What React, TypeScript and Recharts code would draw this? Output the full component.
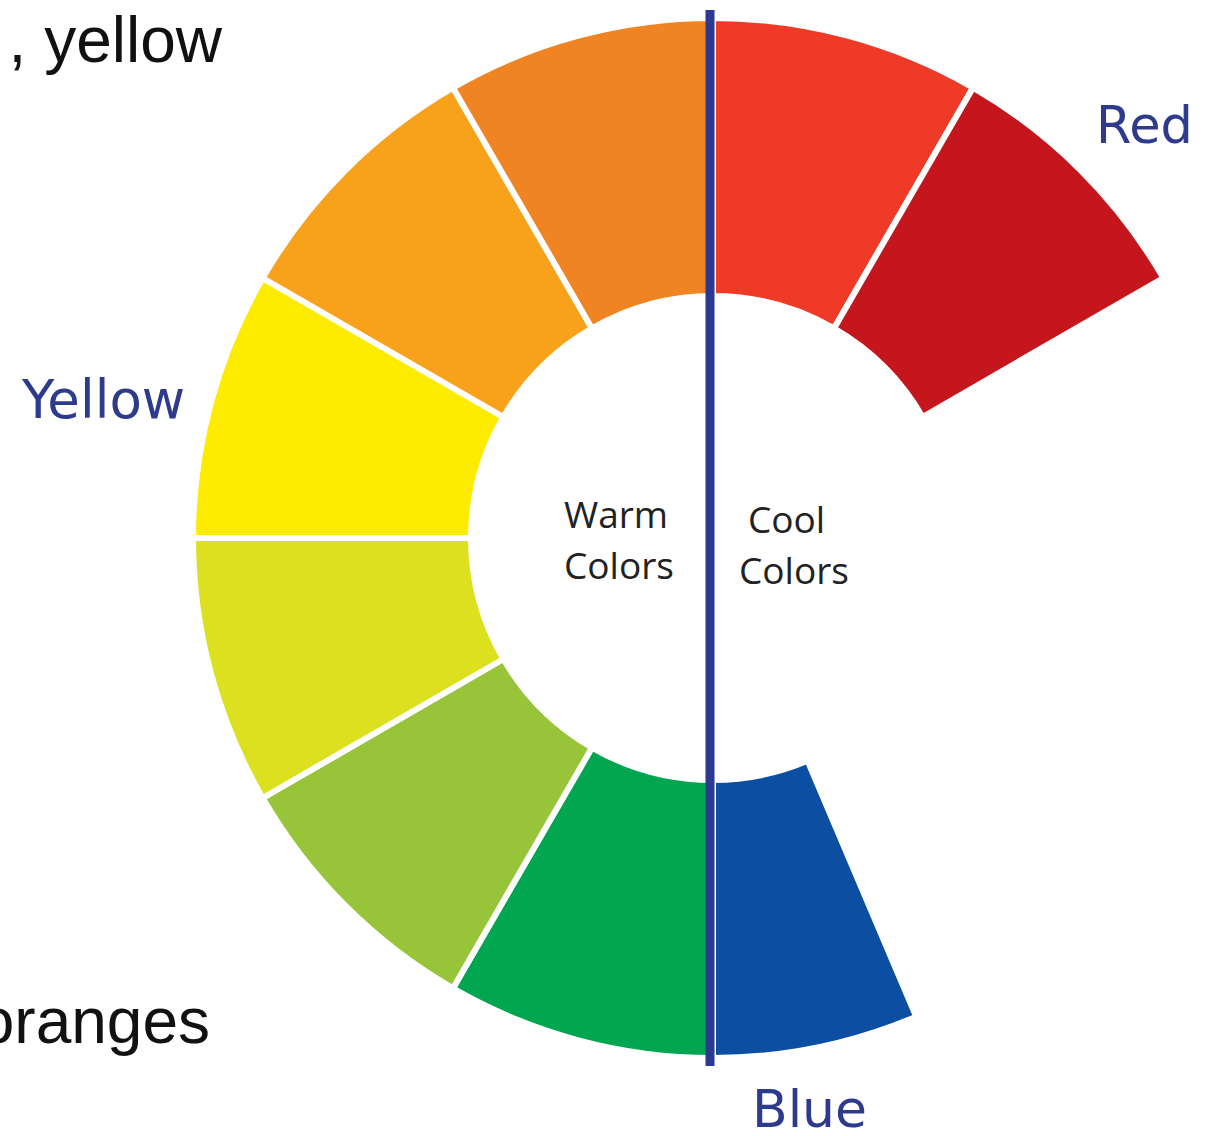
import * as React from 'react';
import { PieChart, Pie, Cell } from 'recharts';

// Segments of the wheel, clockwise from 12 o'clock. Values are arc widths in degrees.
const segmentNames = ['Red', 'Dark red', 'gap', 'Blue', 'Green', 'Light green', 'Yellow green', 'Yellow', 'Light orange', 'Orange'];
const segmentSpans = [30, 30, 97, 23, 30, 30, 30, 30, 30, 30];
const segmentColors = ['#EE3A26', '#C4161C', 'none', '#0B4EA2', '#00A650', '#98C43A', '#DCE01E', '#FEEC00', '#F8A11B', '#F08422'];

const wheelLabels = ['Yellow', 'Red', 'Blue'];
const warmLines = ['Warm', 'Colors'];
const coolLines = ['Cool', 'Colors'];
const slideText = [', yellow', 'oranges'];

const W = 1209;
const H = 1136;

export default function App() {
  const data = segmentNames.map((name, i) => ({ name, value: segmentSpans[i] }));

  const labelFont = '"DejaVu Sans", Verdana, sans-serif';
  const centerFont = '"Open Sans", "Noto Sans", sans-serif';
  const slideFont = '"Liberation Sans", Helvetica, Arial, sans-serif';

  return (
    <div style={{ position: 'absolute', left: 0, top: 0, width: W, height: H, background: '#fff' }}>
      <PieChart width={W} height={H} margin={{ top: 0, right: 0, bottom: 0, left: 0 }}>
        <Pie
          data={data}
          dataKey="value"
          nameKey="name"
          cx={713}
          cy={538}
          innerRadius={242}
          outerRadius={520}
          startAngle={90}
          endAngle={-270}
          isAnimationActive={false}
          stroke="#fff"
          strokeWidth={6}
        >
          {data.map((d, i) => (
            <Cell
              key={d.name}
              fill={segmentColors[i]}
              stroke={segmentColors[i] === 'none' ? 'none' : '#fff'}
            />
          ))}
        </Pie>
      </PieChart>

      <svg width={W} height={H} style={{ position: 'absolute', left: 0, top: 0, pointerEvents: 'none' }}>
        <line x1={710} y1={10} x2={710} y2={1066} stroke="#2B3990" strokeWidth={9} />

        <text x={222} y={62} textAnchor="end" fontFamily={slideFont} fontWeight={300} fontSize={64} fill="#111">
          {slideText[0]}
        </text>
        <text x={210} y={1043} textAnchor="end" fontFamily={slideFont} fontWeight={300} fontSize={64} fill="#111">
          {slideText[1]}
        </text>

        <text x={22} y={418} fontFamily={labelFont} fontSize={53} fill="#2E3A8C">{wheelLabels[0]}</text>
        <text x={1096} y={143} fontFamily={labelFont} fontSize={51} fill="#2E3A8C">{wheelLabels[1]}</text>
        <text x={752} y={1127} fontFamily={labelFont} fontSize={52} fill="#2E3A8C">{wheelLabels[2]}</text>

        <text x={564} y={528} fontFamily={centerFont} fontSize={37} fill="#222">{warmLines[0]}</text>
        <text x={564} y={579} fontFamily={centerFont} fontSize={37} fill="#222">{warmLines[1]}</text>
        <text x={748} y={533} fontFamily={centerFont} fontSize={37} fill="#222">{coolLines[0]}</text>
        <text x={739} y={584} fontFamily={centerFont} fontSize={37} fill="#222">{coolLines[1]}</text>
      </svg>
    </div>
  );
}
